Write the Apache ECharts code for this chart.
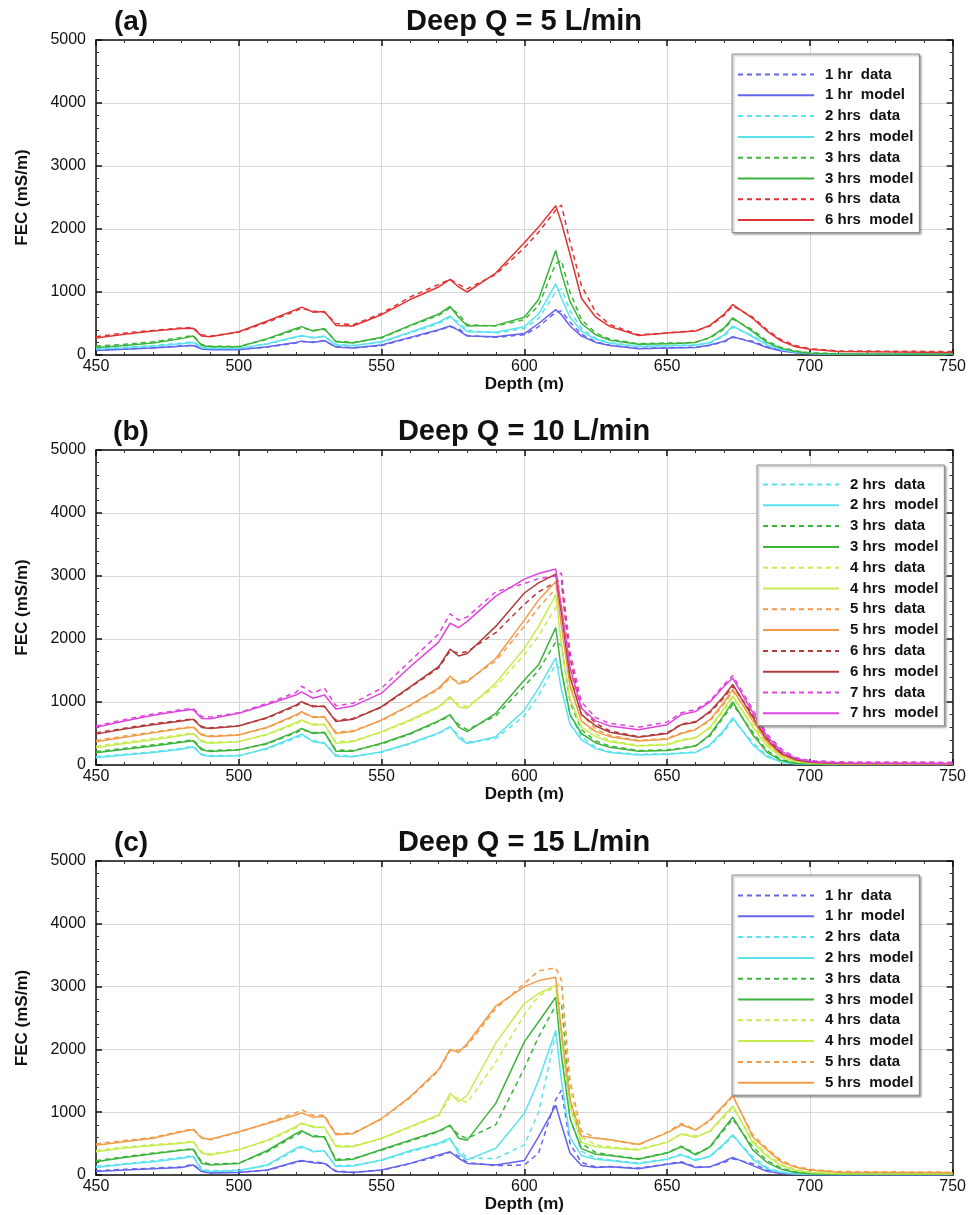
<!DOCTYPE html>
<html>
<head>
<meta charset="utf-8">
<script src="https://cdn.jsdelivr.net/npm/echarts@6/dist/echarts.min.js"></script>
<style>
html,body{margin:0;padding:0;background:#fff;}
#chart{width:969px;height:1215px;}
</style>
</head>
<body>
<div id="chart"></div>
<script>
// Depth (m) sample positions shared by all series
const depth = [450,460,470,480,484,487,490,500,510,520,522,526,530,534,540,550,560,570,574,577,580,590,600,605,611,613,616,620,625,630,640,650,655,660,665,670,673,680,685,690,695,700,710,750];

// Panel (a) Deep Q = 5 L/min
const a1d = [80,95,115,145,155,100,90,90,125,190,215,205,225,130,115,150,270,390,450,420,310,280,320,450,680,700,520,330,210,155,105,115,120,125,150,210,280,220,130,75,40,22,15,12];
const a1m = [70,90,110,140,150,95,85,85,130,200,220,200,230,125,110,160,280,400,460,390,300,290,340,500,720,640,460,300,200,150,100,110,115,120,160,220,290,200,120,65,35,18,10,8];
const a2d = [110,125,150,190,210,125,110,110,175,280,300,280,290,170,150,200,350,500,600,520,390,350,420,580,1000,1050,700,420,270,195,140,150,155,160,190,300,440,310,175,95,50,28,18,15];
const a2m = [95,115,140,180,200,115,105,105,180,290,310,270,300,160,145,210,360,520,620,480,370,360,450,650,1130,900,600,380,250,185,135,145,150,155,200,320,460,290,160,85,45,22,12,10];
const a3d = [140,170,210,280,310,165,140,135,250,400,430,390,410,220,200,270,460,630,750,650,480,460,560,780,1450,1500,1000,560,350,250,180,190,190,205,270,410,570,400,220,120,65,35,22,18];
const a3m = [120,150,190,260,300,150,130,130,260,420,450,380,420,210,190,280,470,650,770,600,460,470,600,880,1660,1300,850,500,320,235,170,180,185,200,280,430,590,370,200,105,55,28,15,12];
const a6d = [290,350,390,430,435,320,300,360,520,700,740,700,680,500,480,660,920,1120,1200,1120,1050,1280,1700,1950,2300,2380,1800,1100,680,480,320,350,370,385,460,630,780,600,400,240,150,100,65,55];
const a6m = [270,330,380,420,425,300,290,370,540,720,760,680,690,470,460,640,880,1080,1200,1080,1000,1300,1780,2030,2370,2100,1600,900,600,450,310,350,365,380,470,650,800,580,380,220,130,90,55,40];

// Panel (b) Deep Q = 10 L/min
const b2d = [130,170,210,265,300,175,150,150,255,430,470,390,350,160,140,200,335,500,600,470,360,420,780,1100,1600,1500,800,450,280,210,170,180,190,210,300,530,720,360,150,55,25,15,12,12];
const b2m = [115,160,200,250,290,160,135,145,265,450,490,370,345,140,130,210,345,510,610,430,340,450,870,1220,1700,1200,650,400,260,200,160,170,185,200,320,560,750,320,130,45,18,10,8,8];
const b3d = [215,265,320,375,400,260,230,245,335,510,560,520,510,240,230,335,490,690,780,640,560,780,1250,1500,1950,1900,1000,560,380,300,230,240,270,310,460,770,960,520,230,85,35,20,15,15];
const b3m = [195,250,300,360,385,240,215,240,345,530,580,500,520,220,220,345,500,700,800,600,530,820,1350,1590,2180,1500,800,500,350,280,220,230,260,300,480,800,1000,480,200,70,28,15,10,10];
const b4d = [300,360,420,485,510,390,360,375,480,650,700,650,640,370,385,520,700,910,1060,960,930,1250,1750,2050,2500,2600,1300,700,490,390,310,335,400,440,580,870,1070,640,330,140,65,35,22,18];
const b4m = [275,340,400,470,500,370,345,370,490,670,715,635,645,345,370,530,715,925,1085,920,900,1300,1850,2200,2700,1900,1050,600,450,370,300,320,390,430,600,900,1100,600,300,120,55,28,15,12];
const b5d = [390,460,525,590,610,490,465,480,590,780,830,770,760,520,545,705,940,1200,1380,1320,1340,1650,2200,2500,2800,2850,1500,800,570,470,390,420,510,570,700,970,1170,740,390,180,90,48,30,25];
const b5m = [370,440,510,580,600,475,450,475,600,795,845,755,765,500,530,715,950,1220,1410,1290,1320,1690,2300,2620,2910,2200,1250,700,530,450,380,410,500,560,720,1000,1200,700,360,160,75,38,20,15];
const b6d = [510,585,655,710,735,610,590,625,745,935,990,940,925,710,740,915,1230,1540,1810,1780,1800,2100,2550,2750,2900,2950,1700,900,660,540,450,510,650,690,830,1070,1250,800,430,200,100,55,35,30];
const b6m = [490,570,640,700,725,595,580,620,755,950,1005,925,935,690,725,925,1240,1560,1840,1730,1770,2200,2730,2890,3030,2400,1400,800,620,520,440,500,640,680,850,1100,1280,760,400,180,85,45,25,20];
const b7d = [620,720,810,880,900,770,760,830,980,1150,1250,1140,1220,940,980,1220,1650,2080,2400,2300,2350,2750,2880,2960,3000,3050,1800,1000,750,660,600,680,830,880,1020,1280,1420,880,490,250,120,70,50,45];
const b7m = [600,700,790,860,880,740,735,820,960,1110,1160,1060,1110,890,935,1140,1560,1950,2250,2180,2280,2680,2950,3040,3110,2500,1550,900,700,620,560,640,800,850,1000,1250,1380,830,450,220,105,55,30,25];

// Panel (c) Deep Q = 15 L/min
const c1d = [70,90,110,130,170,65,40,45,75,200,220,210,190,65,45,75,180,300,360,300,200,150,160,350,1200,1350,500,200,130,135,110,175,210,130,130,200,260,180,80,30,15,10,8,8];
const c1m = [55,80,100,120,160,55,30,40,80,210,230,195,185,55,40,80,185,320,370,265,185,160,230,610,1110,800,350,150,120,130,100,170,200,120,130,220,280,150,60,22,10,5,5,5];
const c2d = [140,180,225,280,310,95,70,75,150,400,440,390,370,150,155,230,370,490,560,400,270,260,480,1000,2250,2200,900,380,270,240,190,255,330,250,290,480,620,290,120,50,22,15,12,12];
const c2m = [120,170,210,265,295,80,55,70,160,425,460,370,385,135,145,240,385,505,585,345,240,425,980,1510,2300,1500,600,310,250,230,180,250,320,230,300,500,640,250,100,40,15,10,8,8];
const c3d = [230,290,350,400,420,210,175,190,370,630,680,630,600,250,260,395,540,690,780,640,580,800,1700,2200,2700,2750,1200,500,360,320,260,355,460,340,440,720,890,450,230,110,50,28,18,15];
const c3m = [210,280,340,395,410,185,160,185,390,660,705,610,610,230,250,405,555,700,795,585,555,1140,2120,2440,2830,1900,900,420,330,310,250,350,450,320,450,750,920,400,200,90,40,20,12,10];
const c4d = [390,445,485,515,540,370,335,405,540,750,810,780,750,470,465,575,760,940,1250,1220,1150,1800,2550,2850,3000,3050,1400,600,480,450,410,525,660,620,690,920,1070,560,330,170,90,48,30,25];
const c4m = [370,430,470,505,530,345,320,400,555,770,830,760,760,450,450,585,770,955,1300,1170,1270,2100,2730,2890,3020,2200,1100,520,450,430,400,520,650,600,700,950,1100,520,300,150,75,38,20,15];
const c5d = [495,550,600,700,735,600,560,680,830,990,1040,950,950,660,670,890,1230,1660,1980,1990,2060,2650,3050,3250,3300,3100,1500,700,590,560,480,680,820,720,860,1100,1250,640,420,230,140,90,55,45];
const c5m = [475,530,585,690,725,585,570,690,820,955,990,920,930,640,655,900,1245,1680,2000,1950,2095,2690,3000,3095,3150,2300,1200,620,585,560,490,670,800,716,880,1120,1270,605,400,205,125,78,45,35];

// Axis ticks
const xTicks = [450,500,550,600,650,700,750];
const yTicks = [0,1000,2000,3000,4000,5000];
const panelTags = ['(a)','(b)','(c)'];
const panelTitles = ['Deep Q = 5 L/min','Deep Q = 10 L/min','Deep Q = 15 L/min'];

const COL = {
  h1:'#6464ee', h2:'#5ae2ee', h3:'#3cb43c', h4:'#c6ec4e', h5:'#f29c4a',
  h6a:'#e03434', h6b:'#b23c3c', h7:'#e044e0'
};

const seriesDefs = [
  [0,'1 hr  data',a1d,COL.h1,true],[0,'1 hr  model',a1m,COL.h1,false],
  [0,'2 hrs  data',a2d,COL.h2,true],[0,'2 hrs  model',a2m,COL.h2,false],
  [0,'3 hrs  data',a3d,COL.h3,true],[0,'3 hrs  model',a3m,COL.h3,false],
  [0,'6 hrs  data',a6d,COL.h6a,true],[0,'6 hrs  model',a6m,COL.h6a,false],
  [1,'2 hrs  data',b2d,COL.h2,true],[1,'2 hrs  model',b2m,COL.h2,false],
  [1,'3 hrs  data',b3d,COL.h3,true],[1,'3 hrs  model',b3m,COL.h3,false],
  [1,'4 hrs  data',b4d,COL.h4,true],[1,'4 hrs  model',b4m,COL.h4,false],
  [1,'5 hrs  data',b5d,COL.h5,true],[1,'5 hrs  model',b5m,COL.h5,false],
  [1,'6 hrs  data',b6d,COL.h6b,true],[1,'6 hrs  model',b6m,COL.h6b,false],
  [1,'7 hrs  data',b7d,COL.h7,true],[1,'7 hrs  model',b7m,COL.h7,false],
  [2,'1 hr  data',c1d,COL.h1,true],[2,'1 hr  model',c1m,COL.h1,false],
  [2,'2 hrs  data',c2d,COL.h2,true],[2,'2 hrs  model',c2m,COL.h2,false],
  [2,'3 hrs  data',c3d,COL.h3,true],[2,'3 hrs  model',c3m,COL.h3,false],
  [2,'4 hrs  data',c4d,COL.h4,true],[2,'4 hrs  model',c4m,COL.h4,false],
  [2,'5 hrs  data',c5d,COL.h5,true],[2,'5 hrs  model',c5m,COL.h5,false]
];

const FONT = '"Liberation Sans", Arial, sans-serif';
const grids = [
  {left:96, top:40, width:858, height:315},
  {left:96, top:450, width:858, height:315},
  {left:96, top:861, width:858, height:314}
];
const titleY = [22, 432, 843];
const legendPos = [
  {left:732, top:54, pad:[13,6,5,5]},
  {left:757, top:465, pad:[12,6,5,5]},
  {left:732, top:875, pad:[13,6,5,5]}
];

const xAxes = [], yAxes = [];
grids.forEach((g,i)=>{
  const common = {
    gridIndex:i, type:'value', min:450, max:750, interval:50,
    axisLine:{show:true, onZero:false, lineStyle:{color:'#111', width:1.5}},
    axisTick:{show:true, inside:true, length:6, lineStyle:{color:'#111', width:1.5}},
    minorTick:{show:true, splitNumber:5, length:3, lineStyle:{color:'#333'}}
  };
  xAxes.push(Object.assign({}, common, {
    position:'bottom',
    axisLabel:{show:true, margin:4, color:'#111', fontSize:16, fontFamily:FONT, formatter: v => String(v)},
    splitLine:{show:true, lineStyle:{color:'#d8d8d8', width:1}},
    name:'Depth (m)', nameLocation:'middle', nameGap:18,
    nameTextStyle:{fontSize:17, fontWeight:'bold', color:'#111', fontFamily:FONT}
  }));
  xAxes.push(Object.assign({}, common, {
    position:'top', axisLabel:{show:false}, splitLine:{show:false}
  }));
  const ycommon = {
    gridIndex:i, type:'value', min:0, max:5000, interval:1000,
    axisLine:{show:true, onZero:false, lineStyle:{color:'#111', width:1.5}},
    axisTick:{show:true, inside:true, length:6, lineStyle:{color:'#111', width:1.5}},
    minorTick:{show:true, splitNumber:5, length:3, lineStyle:{color:'#333'}}
  };
  yAxes.push(Object.assign({}, ycommon, {
    position:'left',
    axisLabel:{show:true, margin:10, color:'#111', fontSize:16, fontFamily:FONT, formatter: v => String(v)},
    splitLine:{show:true, lineStyle:{color:'#d8d8d8', width:1}},
    name:'FEC (mS/m)', nameLocation:'middle', nameGap:65,
    nameTextStyle:{fontSize:17, fontWeight:'bold', color:'#111', fontFamily:FONT}
  }));
  yAxes.push(Object.assign({}, ycommon, {
    position:'right', axisLabel:{show:false}, splitLine:{show:false}
  }));
});

const series = seriesDefs.map(([p,name,vals,color,dashed])=>({
  type:'line',
  name: 'abc'[p] + '|' + name,
  xAxisIndex: p*2, yAxisIndex: p*2,
  data: depth.map((d,k)=>[d, vals[k]]),
  symbol:'none', showSymbol:false, smooth:false, silent:true,
  z: dashed ? 2 : 3,
  lineStyle:{color:color, width:1.5, type: dashed ? [5,4] : 'solid'},
  itemStyle:{color:color}
}));

const legends = [0,1,2].map(p=>({
  orient:'vertical', left:legendPos[p].left, top:legendPos[p].top,
  padding:legendPos[p].pad, itemGap:5.8, itemWidth:76, itemHeight:14,
  backgroundColor:'#fff', borderColor:'#8a8a8a', borderWidth:1,
  shadowColor:'rgba(0,0,0,0.35)', shadowBlur:2, shadowOffsetX:1.5, shadowOffsetY:1.5,
  selectedMode:false,
  itemStyle:{opacity:0},
  data: seriesDefs.filter(s=>s[0]===p).map(s=>'abc'[p]+'|'+s[1]),
  formatter: n => n.split('|')[1],
  textStyle:{fontSize:15, fontWeight:'bold', color:'#111', fontFamily:FONT, padding:[0,0,0,6]}
}));

const graphics = [];
[0,1,2].forEach(p=>{
  graphics.push({type:'text', x:131, y:titleY[p], style:{text:panelTags[p], font:'bold 28px '+FONT, fill:'#111', textAlign:'center', textVerticalAlign:'middle'}});
  graphics.push({type:'text', x:524, y:titleY[p], style:{text:panelTitles[p], font:'bold 29px '+FONT, fill:'#111', textAlign:'center', textVerticalAlign:'middle'}});
});

const chart = echarts.init(document.getElementById('chart'), null, {renderer:'canvas'});
chart.setOption({
  animation:false,
  backgroundColor:'#fff',
  grid: grids.map(g=>Object.assign({containLabel:false}, g)),
  xAxis: xAxes,
  yAxis: yAxes,
  legend: legends,
  graphic: graphics,
  series: series
});
</script>
</body>
</html>
